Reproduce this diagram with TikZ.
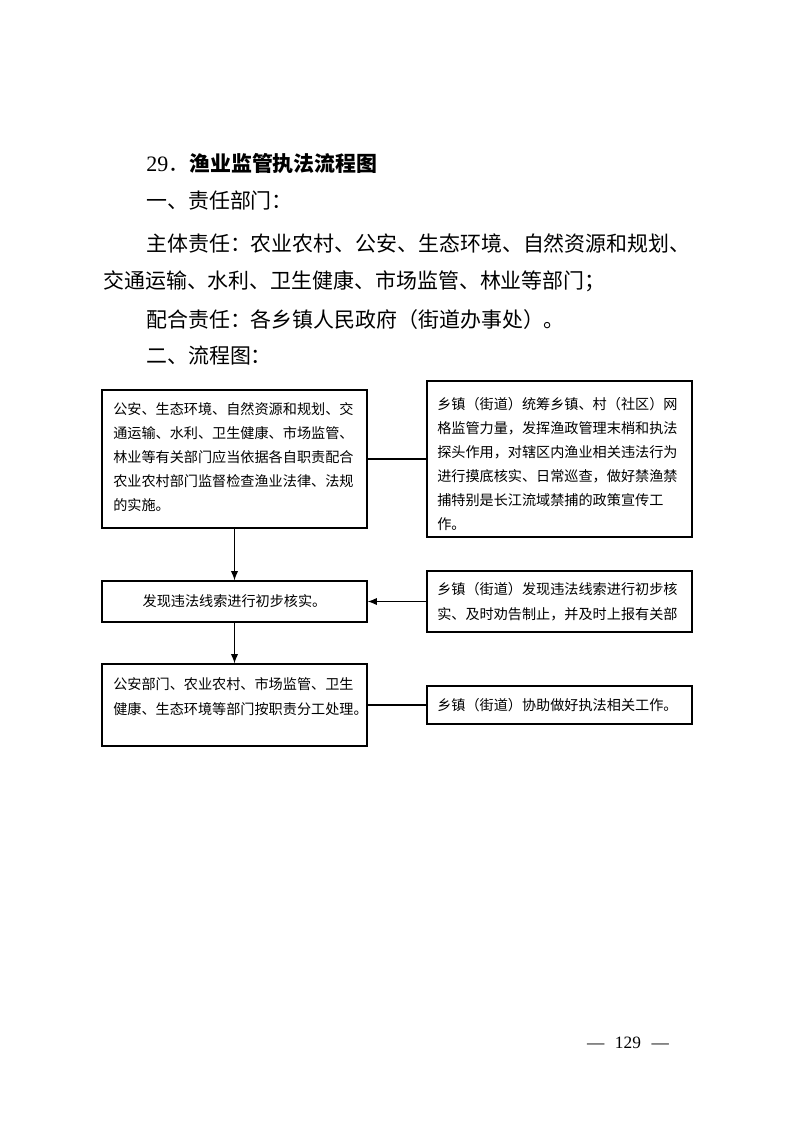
\documentclass[tikz,border=0pt]{standalone}
\usepackage{fontspec}
\setmainfont{Liberation Serif}
\newfontfamily\cjk{Noto Sans CJK SC}
\usetikzlibrary{arrows.meta,fit}
\begin{document}
\begin{tikzpicture}[x=0.75pt,y=-0.75pt,
  box/.style={draw,line width=0.9pt,inner sep=0pt},
  maintext/.style={anchor=base west,inner sep=0pt,font=\cjk\fontsize{15.7}{18}\selectfont},
  smalltext/.style={anchor=base west,inner sep=0pt,font=\cjk\fontsize{10.6}{13}\selectfont},
  conn/.style={line width=0.9pt},
  arr/.style={conn,-{Latex[length=7pt,width=5.5pt]}}]
\useasboundingbox[fill=white] (0,0) rectangle (793,1122);

% heading and body text
\node[maintext] (h) at (146,171) {{\rmfamily\fontsize{16.5}{18}\selectfont 29}．{\bfseries 渔业监管执法流程图}};
\node[maintext] (l1) at (146,208) {一、责任部门：};
\node[maintext] (l2) at (146,251) {主体责任：农业农村、公安、生态环境、自然资源和规划、};
\node[maintext] (l3) at (103,288) {交通运输、水利、卫生健康、市场监管、林业等部门；};
\node[maintext] (l4) at (146,327) {配合责任：各乡镇人民政府（街道办事处）。};
\node[maintext] (l5) at (146,363) {二、流程图：};

% boxes
\node[box,fit={(102,390)(367,528)}] (b1) {};
\node[box,fit={(427,381)(692,537)}] (r1) {};
\node[box,fit={(102,581)(367,622)}] (b2) {};
\node[box,fit={(427,571)(692,632)}] (r2) {};
\node[box,fit={(102,664)(367,746)}] (b3) {};
\node[box,fit={(427,686)(692,724)}] (r3) {};

% box texts
\foreach \t [count=\i from 0] in {公安、生态环境、自然资源和规划、交,通运输、水利、卫生健康、市场监管、,林业等有关部门应当依据各自职责配合,农业农村部门监督检查渔业法律、法规,的实施。}
  \node[smalltext] at (113,{414.4+24*\i}) {\t};
\foreach \t [count=\i from 0] in {乡镇（街道）统筹乡镇、村（社区）网,格监管力量，发挥渔政管理末梢和执法,探头作用，对辖区内渔业相关违法行为,进行摸底核实、日常巡查，做好禁渔禁,捕特别是长江流域禁捕的政策宣传工,作。}
  \node[smalltext] at (437,{409.4+24*\i}) {\t};
\node[smalltext,anchor=center] (t2) at (b2.center) {发现违法线索进行初步核实。};
\node[smalltext] (t2a) at (437,594.4) {乡镇（街道）发现违法线索进行初步核};
\node[smalltext] (t2b) at (437,619.4) {实、及时劝告制止，并及时上报有关部};
\node[smalltext] (t3a) at (113,689.4) {公安部门、农业农村、市场监管、卫生};
\node[smalltext] (t3b) at (113,714.4) {健康、生态环境等部门按职责分工处理。};
\node[smalltext] (t3c) at (437,710.4) {乡镇（街道）协助做好执法相关工作。};

% connectors
\draw[conn] (b1.east) -- (r1.west);
\draw[arr] (b1.south) -- (b2.north);
\draw[arr] (r2.west) -- (b2.east);
\draw[arr] (b2.south) -- (b3.north);
\draw[conn] (b3.east) -- (r3.west);

% page number
\node[font=\fontsize{13}{16}\selectfont] (pg) at (628,1043) {—\hspace{8pt}129\hspace{8pt}—};
\end{tikzpicture}
\end{document}
